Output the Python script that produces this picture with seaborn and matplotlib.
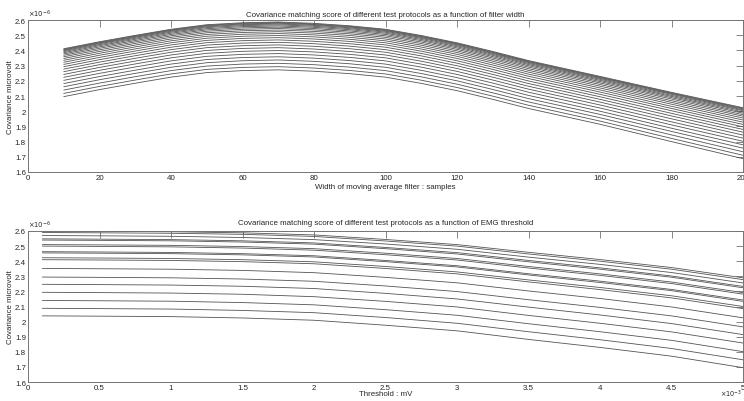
import matplotlib
matplotlib.use("Agg")
import matplotlib.pyplot as plt
import pandas as pd
import seaborn as sns
from matplotlib.ticker import FuncFormatter, MultipleLocator

LINE_COLOR = "0.33"
FRAME_COLOR = "0.45"
FONT_SIZE = 5.7

# filter width (samples) -> covariance score (x 1e-6), one row per test protocol
filter_width = [10, 20, 30, 40, 50, 60, 70, 80, 90, 100, 110, 120, 130, 140, 160, 180, 200]
score_by_width = [
    [2.411, 2.457, 2.499, 2.539, 2.569, 2.582, 2.587, 2.578, 2.562, 2.539, 2.498, 2.450, 2.393, 2.333, 2.229, 2.124, 2.023],
    [2.407, 2.453, 2.495, 2.535, 2.565, 2.578, 2.583, 2.574, 2.558, 2.535, 2.494, 2.446, 2.389, 2.329, 2.225, 2.120, 2.019],
    [2.403, 2.449, 2.491, 2.531, 2.561, 2.574, 2.579, 2.570, 2.554, 2.531, 2.490, 2.442, 2.385, 2.325, 2.221, 2.116, 2.014],
    [2.398, 2.444, 2.486, 2.526, 2.556, 2.569, 2.574, 2.565, 2.549, 2.526, 2.485, 2.437, 2.380, 2.320, 2.216, 2.111, 2.009],
    [2.392, 2.438, 2.480, 2.520, 2.550, 2.563, 2.568, 2.559, 2.543, 2.520, 2.479, 2.431, 2.374, 2.314, 2.210, 2.104, 2.003],
    [2.385, 2.431, 2.473, 2.513, 2.543, 2.556, 2.561, 2.552, 2.536, 2.513, 2.472, 2.424, 2.367, 2.307, 2.203, 2.097, 1.995],
    [2.377, 2.423, 2.465, 2.505, 2.535, 2.548, 2.553, 2.544, 2.528, 2.505, 2.464, 2.416, 2.359, 2.299, 2.195, 2.089, 1.987],
    [2.368, 2.414, 2.456, 2.496, 2.526, 2.539, 2.544, 2.535, 2.519, 2.496, 2.455, 2.407, 2.350, 2.290, 2.186, 2.080, 1.977],
    [2.358, 2.404, 2.446, 2.486, 2.516, 2.529, 2.534, 2.525, 2.509, 2.486, 2.445, 2.397, 2.340, 2.280, 2.176, 2.069, 1.967],
    [2.347, 2.393, 2.435, 2.475, 2.505, 2.518, 2.523, 2.514, 2.498, 2.475, 2.434, 2.386, 2.329, 2.269, 2.165, 2.058, 1.955],
    [2.335, 2.381, 2.423, 2.463, 2.493, 2.506, 2.511, 2.502, 2.486, 2.463, 2.422, 2.374, 2.317, 2.257, 2.153, 2.046, 1.942],
    [2.322, 2.368, 2.410, 2.450, 2.480, 2.493, 2.498, 2.489, 2.473, 2.450, 2.409, 2.361, 2.304, 2.244, 2.140, 2.032, 1.928],
    [2.308, 2.354, 2.396, 2.436, 2.466, 2.479, 2.484, 2.475, 2.459, 2.436, 2.395, 2.347, 2.290, 2.230, 2.126, 2.018, 1.913],
    [2.293, 2.339, 2.381, 2.421, 2.451, 2.464, 2.469, 2.460, 2.444, 2.421, 2.380, 2.332, 2.275, 2.215, 2.111, 2.003, 1.897],
    [2.277, 2.323, 2.365, 2.405, 2.435, 2.448, 2.453, 2.444, 2.428, 2.405, 2.364, 2.316, 2.259, 2.199, 2.095, 1.986, 1.880],
    [2.260, 2.306, 2.348, 2.388, 2.418, 2.431, 2.436, 2.427, 2.411, 2.388, 2.347, 2.299, 2.242, 2.182, 2.078, 1.969, 1.862],
    [2.242, 2.288, 2.330, 2.370, 2.400, 2.413, 2.418, 2.409, 2.393, 2.370, 2.329, 2.281, 2.224, 2.164, 2.060, 1.950, 1.843],
    [2.223, 2.269, 2.311, 2.351, 2.381, 2.394, 2.399, 2.390, 2.374, 2.351, 2.310, 2.262, 2.205, 2.145, 2.041, 1.930, 1.823],
    [2.203, 2.249, 2.291, 2.331, 2.361, 2.374, 2.379, 2.370, 2.354, 2.331, 2.290, 2.242, 2.185, 2.125, 2.021, 1.910, 1.802],
    [2.182, 2.228, 2.270, 2.310, 2.340, 2.353, 2.358, 2.349, 2.333, 2.310, 2.269, 2.221, 2.164, 2.104, 2.000, 1.888, 1.779],
    [2.161, 2.207, 2.249, 2.289, 2.319, 2.332, 2.337, 2.328, 2.312, 2.289, 2.248, 2.200, 2.143, 2.083, 1.979, 1.867, 1.757],
    [2.139, 2.185, 2.227, 2.267, 2.297, 2.310, 2.315, 2.306, 2.290, 2.267, 2.226, 2.178, 2.121, 2.061, 1.957, 1.844, 1.733],
    [2.117, 2.163, 2.205, 2.245, 2.275, 2.288, 2.293, 2.284, 2.268, 2.245, 2.204, 2.156, 2.099, 2.039, 1.935, 1.821, 1.710],
    [2.096, 2.142, 2.184, 2.224, 2.254, 2.267, 2.272, 2.263, 2.247, 2.224, 2.183, 2.135, 2.078, 2.018, 1.914, 1.800, 1.688],
]

# EMG threshold (mV, x 1e-3) -> covariance score (x 1e-6)
threshold = [0.1, 0.5, 1.0, 1.5, 2.0, 2.5, 3.0, 3.5, 4.0, 4.5, 5.0]
score_by_threshold = [
    [2.600, 2.598, 2.595, 2.588, 2.574, 2.544, 2.510, 2.459, 2.411, 2.358, 2.290],
    [2.590, 2.588, 2.585, 2.578, 2.564, 2.534, 2.500, 2.448, 2.400, 2.347, 2.278],
    [2.570, 2.568, 2.565, 2.557, 2.543, 2.514, 2.479, 2.427, 2.379, 2.325, 2.256],
    [2.548, 2.546, 2.543, 2.535, 2.521, 2.491, 2.457, 2.405, 2.356, 2.302, 2.233],
    [2.540, 2.538, 2.535, 2.527, 2.513, 2.483, 2.448, 2.396, 2.347, 2.294, 2.224],
    [2.510, 2.508, 2.505, 2.497, 2.483, 2.453, 2.418, 2.365, 2.316, 2.262, 2.192],
    [2.500, 2.498, 2.495, 2.487, 2.473, 2.443, 2.408, 2.355, 2.306, 2.252, 2.182],
    [2.463, 2.461, 2.458, 2.450, 2.436, 2.405, 2.370, 2.317, 2.268, 2.213, 2.143],
    [2.455, 2.453, 2.450, 2.442, 2.428, 2.397, 2.362, 2.309, 2.259, 2.205, 2.134],
    [2.423, 2.421, 2.418, 2.410, 2.396, 2.365, 2.329, 2.276, 2.226, 2.171, 2.100],
    [2.410, 2.408, 2.405, 2.397, 2.383, 2.352, 2.316, 2.263, 2.212, 2.157, 2.086],
    [2.352, 2.350, 2.347, 2.339, 2.324, 2.293, 2.257, 2.203, 2.153, 2.097, 2.025],
    [2.295, 2.293, 2.290, 2.282, 2.267, 2.236, 2.199, 2.145, 2.094, 2.038, 1.965],
    [2.247, 2.245, 2.242, 2.234, 2.219, 2.187, 2.150, 2.096, 2.044, 1.987, 1.914],
    [2.194, 2.192, 2.189, 2.181, 2.165, 2.134, 2.097, 2.041, 1.989, 1.932, 1.858],
    [2.140, 2.138, 2.135, 2.126, 2.111, 2.079, 2.042, 1.986, 1.933, 1.876, 1.801],
    [2.088, 2.086, 2.083, 2.074, 2.059, 2.027, 1.989, 1.933, 1.880, 1.822, 1.747],
    [2.038, 2.036, 2.033, 2.024, 2.009, 1.976, 1.939, 1.882, 1.829, 1.771, 1.695],
]

y_ticks = [1.6, 1.7, 1.8, 1.9, 2.0, 2.1, 2.2, 2.3, 2.4, 2.5, 2.6]


def to_long(x, rows):
    records = []
    for i, row in enumerate(rows):
        for xv, yv in zip(x, row):
            records.append({"x": xv, "score": yv, "protocol": i})
    return pd.DataFrame(records)


def style_axes(ax, xlim, xstep):
    ax.set_xlim(*xlim)
    ax.set_ylim(1.6, 2.6)
    ax.set_yticks(y_ticks)
    ax.xaxis.set_major_locator(MultipleLocator(xstep))
    fmt = FuncFormatter(lambda v, p: f"{v:g}")
    ax.xaxis.set_major_formatter(fmt)
    ax.yaxis.set_major_formatter(fmt)
    ax.tick_params(
        direction="in", length=5, width=0.6, color=FRAME_COLOR,
        top=True, right=True, labelsize=FONT_SIZE, pad=1.5,
    )
    for sp in ax.spines.values():
        sp.set_visible(True)
        sp.set_color(FRAME_COLOR)
        sp.set_linewidth(0.7)
    ax.text(0.0, 1.004, r"$\times10^{-6}$", transform=ax.transAxes,
            ha="left", va="bottom", fontsize=FONT_SIZE - 0.8)


sns.set_theme(style="white")
plt.rcParams["font.family"] = ["Liberation Sans", "DejaVu Sans"]

fig = plt.figure(figsize=(7.44, 4.02), dpi=100)
ax_top = fig.add_axes([28 / 744, 1 - 173 / 402, 715 / 744, 152 / 402])
ax_bot = fig.add_axes([28 / 744, 1 - 383 / 402, 715 / 744, 151 / 402])

sns.lineplot(data=to_long(filter_width, score_by_width), x="x", y="score",
             units="protocol", estimator=None, color=LINE_COLOR, lw=0.6, ax=ax_top)
sns.lineplot(data=to_long(threshold, score_by_threshold), x="x", y="score",
             units="protocol", estimator=None, color=LINE_COLOR, lw=0.6, ax=ax_bot)

style_axes(ax_top, (0, 200), 20)
style_axes(ax_bot, (0, 5), 0.5)

ax_top.set_title("Covariance matching score of different test protocols as a function of filter width",
                 fontsize=FONT_SIZE, pad=3)
ax_bot.set_title("Covariance matching score of different test protocols as a function of EMG threshold",
                 fontsize=FONT_SIZE, pad=5)

ax_top.set_xlabel("Width of moving average filter : samples", fontsize=FONT_SIZE)
ax_bot.set_xlabel("Threshold : mV", fontsize=FONT_SIZE)
ax_top.xaxis.set_label_coords(0.5, -0.075)
ax_bot.xaxis.set_label_coords(0.5, -0.05)
for ax in (ax_top, ax_bot):
    ax.set_ylabel("Covariance microvolt", fontsize=FONT_SIZE)
    ax.yaxis.set_label_coords(-0.019, 0.5)

ax_bot.text(0.999, -0.112, r"$\times10^{-3}$", transform=ax_bot.transAxes,
            ha="right", va="bottom", fontsize=FONT_SIZE - 1.0)

fig.savefig("out.png", dpi=100)
